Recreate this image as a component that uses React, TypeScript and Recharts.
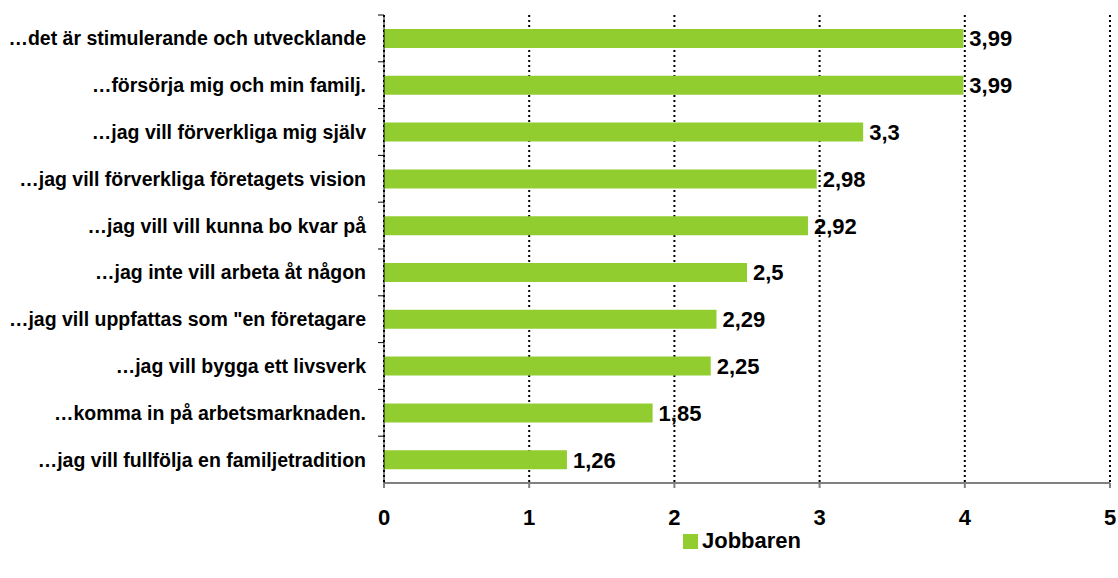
import React from 'react'
import { BarChart, Bar, XAxis, YAxis, CartesianGrid, Legend, LabelList } from 'recharts'

const categories = [
    '…det är stimulerande och utvecklande',
    '…försörja mig och min familj.',
    '…jag vill förverkliga mig själv',
    '…jag vill förverkliga företagets vision',
    '…jag vill vill kunna bo kvar på',
    '…jag inte vill arbeta åt någon',
    '…jag vill uppfattas som "en företagare',
    '…jag vill bygga ett livsverk',
    '…komma in på arbetsmarknaden.',
    '…jag vill fullfölja en familjetradition',
]
const jobbaren = [3.99, 3.99, 3.3, 2.98, 2.92, 2.5, 2.29, 2.25, 1.85, 1.26]
const xTicks = [0, 1, 2, 3, 4, 5]

const seriesName = 'Jobbaren'
const data = categories.map((name, i) => ({ name, value: jobbaren[i] }))

const FONT = '"Liberation Sans", Arial, Helvetica, sans-serif'
const GREEN = '#92cd30'
const PLOT_LEFT = 384
const PLOT_TOP = 15
const PLOT_BOTTOM = 483
const BAND = (PLOT_BOTTOM - PLOT_TOP) / categories.length

if (typeof document !== 'undefined') document.body.style.margin = '0'

const CategoryTick = (props: any) => {
    const { x, y, payload } = props
    return (
        <g>
            <text x={x} y={y} dy={7} textAnchor="end" fontFamily={FONT} fontSize={19.5} fontWeight="bold" fill="#000">
                {payload.value}
            </text>
            <line x1={PLOT_LEFT - 6} x2={PLOT_LEFT} y1={y - BAND / 2} y2={y - BAND / 2} stroke="#000" />
        </g>
    )
}

const renderLegend = () => (
    <div style={{ display: 'flex', alignItems: 'center', fontFamily: FONT, fontSize: 22, fontWeight: 'bold', color: '#000', lineHeight: '22px' }}>
        <span style={{ display: 'inline-block', width: 15, height: 15, background: GREEN, marginRight: 4 }} />
        {seriesName}
    </div>
)

export default function App() {
    return (
        <BarChart
            width={1118}
            height={578}
            data={data}
            layout="vertical"
            margin={{ top: PLOT_TOP, right: 8, bottom: 30, left: 0 }}
            barCategoryGap={0}
        >
            <CartesianGrid horizontal={false} stroke="#000" strokeWidth={2} strokeDasharray="2 3" />
            <XAxis
                type="number"
                domain={[0, 5]}
                ticks={xTicks}
                height={45}
                axisLine={{ stroke: '#808080', strokeWidth: 2 }}
                tickLine={{ stroke: '#808080', strokeWidth: 2 }}
                tickSize={5}
                tickMargin={21}
                tick={{ fontFamily: FONT, fontSize: 22, fontWeight: 'bold', fill: '#000' }}
            />
            <YAxis
                type="category"
                dataKey="name"
                width={PLOT_LEFT}
                axisLine={{ stroke: '#000', strokeWidth: 1 }}
                tickLine={false}
                tickSize={6}
                tickMargin={12}
                tick={<CategoryTick />}
                interval={0}
            />
            <Legend
                content={renderLegend}
                wrapperStyle={{ left: 683, top: 530, bottom: 'auto', width: 'auto', height: 20 }}
            />
            <Bar dataKey="value" name={seriesName} fill={GREEN} barSize={19} isAnimationActive={false}>
                <LabelList
                    dataKey="value"
                    position="right"
                    offset={6}
                    formatter={(v: any) => String(v).replace('.', ',')}
                    style={{ fontFamily: FONT, fontSize: 22, fontWeight: 'bold', fill: '#000' }}
                />
            </Bar>
        </BarChart>
    )
}
